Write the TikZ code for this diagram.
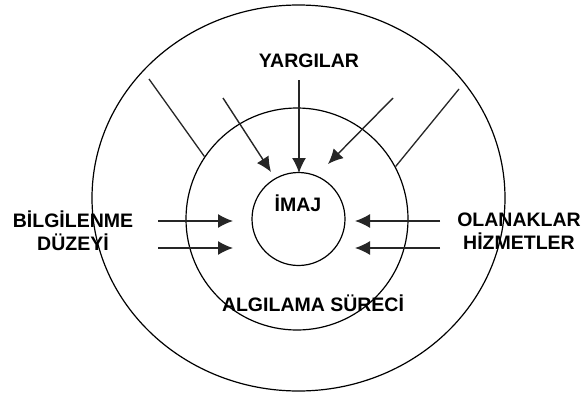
\documentclass[tikz,border=0pt]{standalone}
\usepackage{fontspec}
\setmainfont{Liberation Sans}
\usetikzlibrary{arrows.meta,shapes.geometric}
\begin{document}
\begin{tikzpicture}[x=1pt,y=-1pt,
  ring/.style={draw=black,line width=1.2pt,inner sep=0pt},
  lbl/.style={font=\fontsize{19.5}{23}\selectfont\bfseries,inner sep=0pt,align=center,text=black},
  feed/.style={draw=black!85,line width=1.4pt,-{Latex[length=15pt,width=14pt]}},
  plain/.style={draw=black!85,line width=1.3pt}]
\useasboundingbox (0,0) rectangle (581,394);
\fill[white] (0,0) rectangle (581,394);
% circles
\node[ring,ellipse,minimum width=413pt,minimum height=386pt] (outer) at (298.5,198) {};
\node[ring,circle,minimum size=222pt] (mid) at (297,219) {};
\node[ring,circle,minimum size=93pt] (inner) at (298.5,219) {};
% labels
\node[lbl] (yarg) at (309,61) {YARGILAR};
\node[lbl] (imaj) at (298,203) {İMAJ};
\node[lbl] (bilg) at (73,231) {BİLGİLENME\\DÜZEYİ};
\node[lbl] (olan) at (519,231) {OLANAKLAR\\HİZMETLER};
\node[lbl] (alg) at (313,303) {ALGILAMA SÜRECİ};
% coordinates
\coordinate (fl) at (149,79);
\coordinate (ls) at (223,98);
\coordinate (lt) at (271,172);
\coordinate (cs) at (299,80);
\coordinate (ct) at (299,173);
\coordinate (rs) at (393,98);
\coordinate (rt) at (328,164);
\coordinate (fr) at (459,89);
\coordinate (l1s) at (158,221);
\coordinate (l1t) at (233,221);
\coordinate (l2s) at (158,248);
\coordinate (l2t) at (233,248);
\coordinate (r1s) at (440,221);
\coordinate (r1t) at (355,221);
\coordinate (r2s) at (440,248);
\coordinate (r2t) at (355,248);
% connectors
\draw[plain] (fl) -- (mid.146);
\draw[plain] (fr) -- (mid.28);
\draw[feed] (ls) -- (lt);
\draw[feed] (cs) -- (ct);
\draw[feed] (rs) -- (rt);
\draw[feed] (l1s) -- (l1t);
\draw[feed] (l2s) -- (l2t);
\draw[feed] (r1s) -- (r1t);
\draw[feed] (r2s) -- (r2t);
\end{tikzpicture}
\end{document}
